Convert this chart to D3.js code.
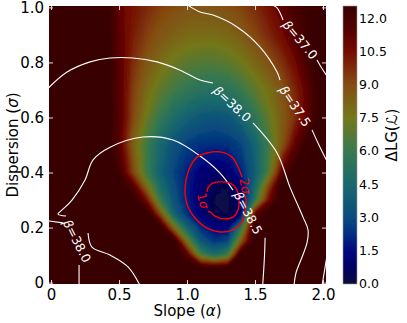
<!DOCTYPE html>
<html>
<head>
<meta charset="utf-8">
<script src="https://cdn.jsdelivr.net/npm/d3@7"></script>
<style>
  body { margin: 0; background: #fff; }
  svg { display: block; font-family: "DejaVu Sans", sans-serif; }
</style>
</head>
<body>
<div id="chart"></div>
<script>
// grid of the likelihood map
const S = 13; // above the top of the colour scale (saturated)
const alpha = [0, 0.1, 0.2, 0.3, 0.4, 0.5, 0.6, 0.7, 0.8, 0.9, 1.0, 1.1, 1.2, 1.3, 1.4, 1.5, 1.6, 1.7, 1.8, 1.9, 2.0];
const sigma = [0, 0.05, 0.1, 0.15, 0.2, 0.25, 0.3, 0.35, 0.4, 0.5, 0.6, 0.7, 0.8, 0.9, 1.0];
const deltaLG = [
  [S,S,S,S,S,S,S,S,S,S,S,S,S,S,S,S,S,S,S,S,S],
  [S,S,S,S,S,S,S,S,S,S,S,S,S,S,S,S,S,S,S,S,S],
  [S,S,S,S,S,S,S,S,S,S,11.5,6.5,4.8,6.2,S,S,S,S,S,S,S],
  [S,S,S,S,S,S,S,S,S,S,7.5,3.6,2.5,2.9,8.5,S,S,S,S,S,S],
  [S,S,S,S,S,S,S,S,S,8.0,4.3,2.2,1.4,1.3,5.5,S,S,S,S,S,S],
  [S,S,S,S,S,S,S,S,9.0,4.3,2.3,1.1,0.35,0.2,0.9,11,S,S,S,S,S],
  [S,S,S,S,S,S,S,10.5,6.0,3.4,1.95,0.9,0.2,0.1,0.9,5.5,10.5,S,S,S,S],
  [S,S,S,S,S,S,11.5,8.0,4.8,3.1,1.9,1.0,0.45,0.25,1.2,4.5,9.0,S,S,S,S],
  [S,S,S,S,S,12.2,9.2,6.2,4.1,2.8,1.95,1.2,0.85,0.95,2.05,3.9,6.5,11.2,S,S,S],
  [S,S,S,S,S,11.3,8.4,6.2,4.5,3.3,2.6,2.3,2.2,2.3,2.8,4.2,6.2,8.6,11.2,S,S],
  [S,S,S,S,S,11.5,9.1,7.3,5.9,4.8,4.1,3.6,3.4,3.6,4.3,5.6,7.0,8.5,9.7,11.4,S],
  [S,S,S,S,S,11.4,9.3,8.0,7.0,6.2,5.7,5.3,5.2,5.4,6.0,6.9,7.8,8.7,9.9,11.4,S],
  [S,S,S,S,S,11.3,9.7,8.7,7.9,7.3,6.9,6.7,6.7,6.9,7.4,8.1,8.8,9.6,10.7,12.1,S],
  [S,S,S,S,S,11.2,10.1,9.3,8.7,8.3,8.0,7.9,7.9,8.1,8.5,9.1,9.8,10.6,11.6,12.4,S],
  [S,S,S,S,S,11.0,10.3,9.8,9.3,9.0,8.8,8.7,8.7,8.9,9.2,9.7,10.4,11.2,12.0,12.5,S]
];

// beta contours [alpha, sigma], split where the labels sit
const beta370 = [[[1.62,1.01],[1.662,0.998],[1.706,0.954]], [[1.956,0.809],[1.99,0.78],[2.03,0.75]]];
const beta375 = [[[1.0,1.01],[1.096,0.983],[1.191,0.972],[1.368,0.929],[1.537,0.856],[1.662,0.765],[1.684,0.736]],
                 [[1.919,0.555],[1.97,0.50],[2.03,0.44]]];
const beta380 = [[[-0.02,0.707],[0.118,0.765],[0.287,0.802],[0.434,0.816],[0.603,0.816],[0.779,0.802],[0.949,0.772],[1.096,0.736],[1.191,0.725]],
                 [[1.485,0.580],[1.662,0.471],[1.757,0.347],[1.853,0.238],[1.89,0.191],[1.882,0.144],[1.846,0.093],[1.801,0.035],[1.787,-0.01]],
                 [[-0.02,0.224],[0.088,0.217]],
                 [[0.272,0.180],[0.301,0.129],[0.434,0.100],[0.566,0.057],[0.654,-0.01]],
                 [[0.206,0.064],[0.206,-0.01]],
                 [[2.03,0.100],[1.993,-0.01]]];
const beta385 = [[[0.110,0.242],[0.051,0.249],[0.081,0.264],[0.154,0.300],[0.250,0.373],[0.309,0.446],[0.434,0.492],[0.676,0.529],[0.897,0.518],[1.096,0.46],[1.243,0.398],[1.338,0.336]],
                 [[1.574,0.163],[1.57,0.10],[1.559,0.009],[1.556,-0.01]]];
const betaLabels = [
  {text: "=37.0", a: 1.831, s: 0.882, rot: 50},
  {text: "=37.5", a: 1.794, s: 0.641, rot: 56},
  {text: "=38.0", a: 1.331, s: 0.649, rot: 43},
  {text: "=38.5", a: 1.449, s: 0.253, rot: 62},
  {text: "=38.0", a: 0.191, s: 0.151, rot: 63}
];

// confidence contours
const sigma1 = [[1.154,0.257],[1.169,0.257],[1.206,0.242],[1.279,0.231],[1.338,0.238],[1.375,0.264],[1.382,0.300],[1.368,0.336],[1.331,0.358],[1.257,0.366],[1.191,0.362],[1.154,0.344],[1.147,0.329]];
const sigma2 = [[1.426,0.318],[1.434,0.293],[1.426,0.257],[1.404,0.220],[1.331,0.191],[1.243,0.184],[1.147,0.198],[1.059,0.235],[1.007,0.275],[0.985,0.326],[0.993,0.373],[1.022,0.420],[1.074,0.456],[1.147,0.471],[1.243,0.475],[1.331,0.456],[1.375,0.420],[1.404,0.384]];
const sigmaLabels = [{text: "1", a: 1.118, s: 0.297, rot: 75}, {text: "2", a: 1.426, s: 0.351, rot: 80}];

const xTicks = [0, 0.5, 1.0, 1.5, 2.0];
const yTicks = [0, 0.2, 0.4, 0.6, 0.8, 1.0];
const cbTicks = [0, 1.5, 3.0, 4.5, 6.0, 7.5, 9.0, 10.5, 12.0];

// colour map
const cmapVal = [0, 0.8, 1.5, 2.3, 3.0, 4.5, 6.0, 7.5, 9.0, 10.5, 11.5, 12.55];
const cmapCol = ["#0b0b3d", "#000068", "#00087f", "#03307f", "#0a4c7e", "#19696e", "#38794f", "#74781a", "#844c12", "#740b03", "#520101", "#380000"];
const color = d3.scaleLinear().domain(cmapVal).range(cmapCol).clamp(true);

const W = 407, H = 323;
const plot = {left: 49, right: 326, top: 6, bottom: 284};
const svg = d3.select("#chart").append("svg").attr("width", W).attr("height", H);
const defs = svg.append("defs");

const x = d3.scaleLinear().domain([-0.015, 2.022]).range([plot.left, plot.right]);
const y = d3.scaleLinear().domain([-0.005, 1.005]).range([plot.bottom, plot.top]);

defs.append("clipPath").attr("id", "clip")
  .append("rect").attr("x", plot.left).attr("y", plot.top)
  .attr("width", plot.right - plot.left).attr("height", plot.bottom - plot.top);
defs.append("filter").attr("id", "soft").attr("x", "-5%").attr("y", "-5%").attr("width", "110%").attr("height", "110%")
  .append("feGaussianBlur").attr("stdDeviation", 1.3);

const g = svg.append("g").attr("clip-path", "url(#clip)");
const field = g.append("g").attr("filter", "url(#soft)");
field.append("rect").attr("x", plot.left - 6).attr("y", plot.top - 6)
  .attr("width", plot.right - plot.left + 12).attr("height", plot.bottom - plot.top + 12)
  .attr("fill", color(12.55));

// map grid coordinates (samples at k+0.5) onto data values
const nx = alpha.length, ny = sigma.length;
const gx = d3.scaleLinear().domain([0, ...alpha.map((d, i) => i + 0.5), nx]).range([x.domain()[0], ...alpha, x.domain()[1]]);
const gy = d3.scaleLinear().domain([0, ...sigma.map((d, i) => i + 0.5), ny]).range([y.domain()[0], ...sigma, y.domain()[1] + 0.02]);
const proj = d3.geoTransform({point: function(px, py) { this.stream.point(x(gx(px)), y(gy(py))); }});
const path = d3.geoPath(proj);

const values = deltaLG.flat();
const step = 0.05;
const thresholds = d3.range(0, 12.55, step);
const contours = d3.contours().size([nx, ny]).thresholds(thresholds)(values);
field.selectAll("path.lvl").data(contours).join("path")
  .attr("class", "lvl")
  .attr("d", path)
  .attr("fill", d => color(d.value + step / 2))
  .attr("stroke", d => color(d.value + step / 2))
  .attr("stroke-width", 0.3);

const line = d3.line().x(d => x(d[0])).y(d => y(d[1])).curve(d3.curveCatmullRom);
[...beta370, ...beta375, ...beta380, ...beta385].forEach(seg => {
  g.append("path").attr("d", line(seg)).attr("fill", "none").attr("stroke", "#fff").attr("stroke-width", 1.1);
});
g.append("path").attr("d", line(sigma1)).attr("fill", "none").attr("stroke", "#f00").attr("stroke-width", 1.4);
g.append("path").attr("d", line(sigma2)).attr("fill", "none").attr("stroke", "#f00").attr("stroke-width", 1.4);

betaLabels.forEach(l => {
  const t = g.append("text")
    .attr("transform", `translate(${x(l.a)},${y(l.s)}) rotate(${l.rot})`)
    .attr("text-anchor", "middle").attr("dy", "0.35em")
    .attr("fill", "#fff").attr("font-size", 12.5);
  t.append("tspan").attr("font-style", "italic").text("β");
  t.append("tspan").text(l.text);
});
sigmaLabels.forEach(l => {
  const t = g.append("text")
    .attr("transform", `translate(${x(l.a)},${y(l.s)}) rotate(${l.rot})`)
    .attr("text-anchor", "middle").attr("dy", "0.35em")
    .attr("fill", "#f00").attr("font-size", 12.5);
  t.append("tspan").text(l.text);
  t.append("tspan").attr("font-style", "italic").text("σ");
});

// axes
const tickFmt = d => d === 0 ? "0" : d3.format(".1f")(d);
const axes = [
  svg.append("g").attr("transform", `translate(0,${plot.bottom})`).call(d3.axisBottom(x).tickValues(xTicks).tickFormat(tickFmt).tickSize(-4).tickPadding(5)),
  svg.append("g").attr("transform", `translate(${plot.left},0)`).call(d3.axisLeft(y).tickValues(yTicks).tickFormat(tickFmt).tickSize(-4).tickPadding(5)),
  svg.append("g").attr("transform", `translate(0,${plot.top})`).call(d3.axisTop(x).tickValues(xTicks).tickFormat("").tickSize(-4)),
  svg.append("g").attr("transform", `translate(${plot.right},0)`).call(d3.axisRight(y).tickValues(yTicks).tickFormat("").tickSize(-4))
];
axes.forEach(a => {
  a.select(".domain").remove();
  a.selectAll(".tick line").attr("stroke", "#ddd");
  a.selectAll(".tick text").attr("fill", "#000").attr("font-size", 15).attr("font-family", "DejaVu Sans");
});

const xl = svg.append("text").attr("x", (plot.left + plot.right) / 2).attr("y", 316)
  .attr("text-anchor", "middle").attr("font-size", 15);
xl.append("tspan").text("Slope (");
xl.append("tspan").attr("font-style", "italic").text("α");
xl.append("tspan").text(")");
const yl = svg.append("text").attr("transform", `translate(18,${(plot.top + plot.bottom) / 2}) rotate(-90)`)
  .attr("text-anchor", "middle").attr("font-size", 15);
yl.append("tspan").text("Dispersion (");
yl.append("tspan").attr("font-style", "italic").text("σ");
yl.append("tspan").text(")");

// colour bar
const cb = {left: 343, width: 14};
const cy = d3.scaleLinear().domain([0, 12.55]).range([plot.bottom, plot.top]);
const grad = defs.append("linearGradient").attr("id", "cbgrad")
  .attr("x1", 0).attr("y1", 1).attr("x2", 0).attr("y2", 0);
grad.selectAll("stop").data(cmapVal).join("stop")
  .attr("offset", d => d / 12.55).attr("stop-color", (d, i) => cmapCol[i]);
svg.append("rect").attr("x", cb.left).attr("y", plot.top).attr("width", cb.width)
  .attr("height", plot.bottom - plot.top).attr("fill", "url(#cbgrad)")
  .attr("stroke", "#999").attr("stroke-width", 0.6);
svg.append("g").selectAll("text").data(cbTicks).join("text")
  .attr("x", cb.left + cb.width + 2).attr("y", d => cy(d)).attr("dy", "0.35em")
  .attr("font-size", 12.5).text(d => d3.format(".1f")(d));
const cl = svg.append("text").attr("transform", `translate(397,135) rotate(-90)`)
  .attr("text-anchor", "middle").attr("font-size", 15);
cl.append("tspan").text("ΔLG(");
cl.append("tspan").attr("font-style", "italic").text("ℒ");
cl.append("tspan").text(")");
</script>
</body>
</html>
